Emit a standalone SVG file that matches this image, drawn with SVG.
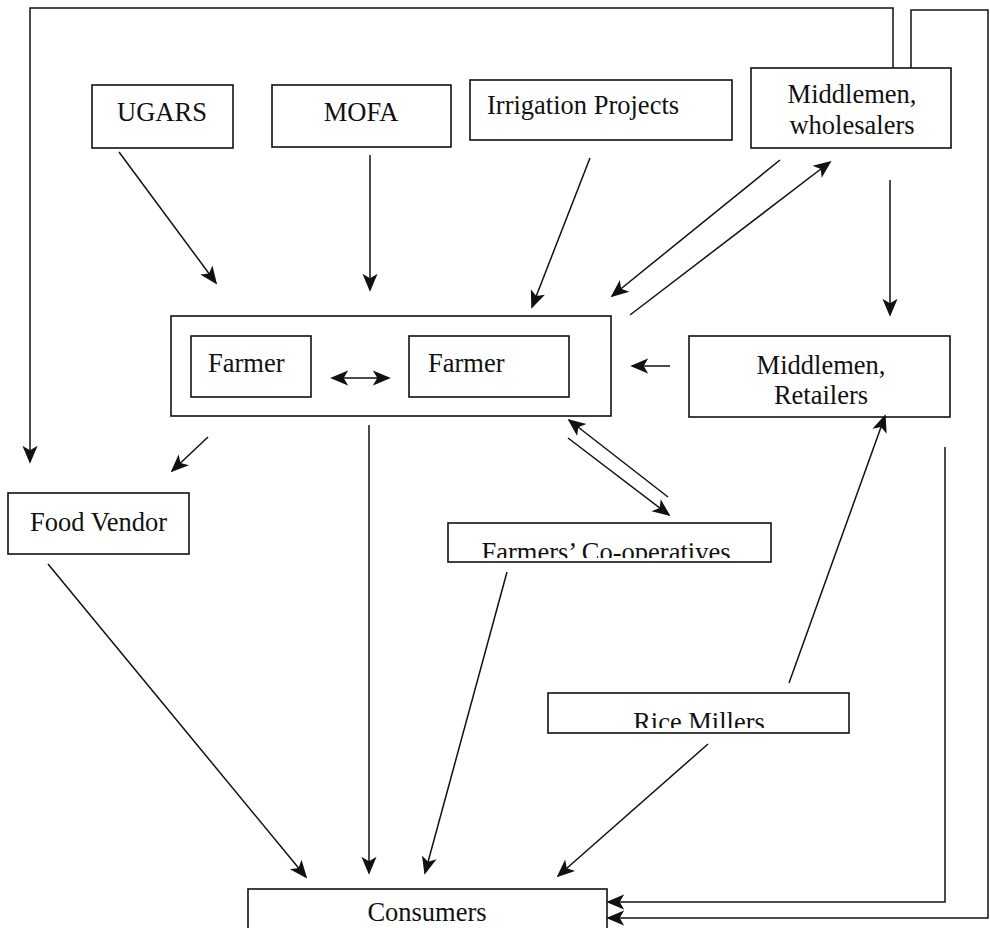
<svg xmlns="http://www.w3.org/2000/svg" width="990" height="928" viewBox="0 0 990 928">
<defs>
<marker id="ah" viewBox="0 0 10 10" refX="9" refY="5" markerWidth="18" markerHeight="18" markerUnits="userSpaceOnUse" orient="auto-start-reverse">
<path d="M0,0.8 L10,5 L0,9.2 L2.5,5 z" fill="#111"/>
</marker>
<clipPath id="cpCoop"><rect x="448" y="523" width="323" height="35"/></clipPath>
<clipPath id="cpRice"><rect x="548" y="693" width="301" height="35"/></clipPath>
<style>
.b{fill:#fff;stroke:#111;stroke-width:1.6}
.o{fill:none;stroke:#111;stroke-width:1.6}
.t{font-family:"Liberation Serif",serif;font-size:26.5px;fill:#111}
.c{fill:none;stroke:#111;stroke-width:1.5}
</style>
</defs>
<rect width="990" height="928" fill="#fff"/>
<g id="ugars"><rect class="b" x="92" y="85" width="141" height="63"/><text class="t" x="162" y="121" text-anchor="middle">UGARS</text></g>
<g id="mofa"><rect class="b" x="272" y="85" width="179" height="62"/><text class="t" x="361" y="121" text-anchor="middle">MOFA</text></g>
<g id="irrigation"><rect class="b" x="470" y="80" width="262" height="60"/><text class="t" x="487" y="114">Irrigation Projects</text></g>
<g id="wholesalers"><rect class="b" x="751" y="68" width="200" height="80"/><text class="t" x="852" y="103" text-anchor="middle">Middlemen,</text><text class="t" x="852" y="134" text-anchor="middle">wholesalers</text></g>
<g id="farmers"><rect class="o" x="171" y="316" width="440" height="100"/>
<g id="farmer1"><rect class="b" x="191" y="336" width="120" height="61"/><text class="t" x="208" y="372">Farmer</text></g>
<g id="farmer2"><rect class="b" x="409" y="336" width="160" height="61"/><text class="t" x="428" y="372">Farmer</text></g>
</g>
<g id="retailers"><rect class="b" x="689" y="336" width="261" height="81"/><text class="t" x="821" y="374" text-anchor="middle">Middlemen,</text><text class="t" x="821" y="404" text-anchor="middle">Retailers</text></g>
<g id="foodvendor"><rect class="b" x="8" y="493" width="181" height="61"/><text class="t" x="30" y="531">Food Vendor</text></g>
<g id="coops"><rect class="b" x="448" y="523" width="323" height="39"/><text class="t" x="606" y="561" text-anchor="middle" clip-path="url(#cpCoop)">Farmers’ Co-operatives</text></g>
<g id="ricemillers"><rect class="b" x="548" y="693" width="301" height="40"/><text class="t" x="699" y="731" text-anchor="middle" clip-path="url(#cpRice)">Rice Millers</text></g>
<g id="consumers"><rect class="b" x="248" y="889" width="359" height="44"/><text class="t" x="427" y="921" text-anchor="middle">Consumers</text></g>
<g id="connectors">
<path class="c" d="M893,68 V8 H30 V462" marker-end="url(#ah)"/>
<path class="c" d="M911,68 V10 H988 V918 H608" marker-end="url(#ah)"/>
<path class="c" d="M945,447 V902 H608" marker-end="url(#ah)"/>
<line class="c" x1="119" y1="152" x2="216" y2="283" marker-end="url(#ah)"/>
<line class="c" x1="370" y1="155" x2="370" y2="290" marker-end="url(#ah)"/>
<line class="c" x1="590" y1="158" x2="532" y2="307" marker-end="url(#ah)"/>
<line class="c" x1="780" y1="160" x2="612" y2="296" marker-end="url(#ah)"/>
<line class="c" x1="630" y1="315" x2="830" y2="162" marker-end="url(#ah)"/>
<line class="c" x1="890" y1="180" x2="890" y2="315" marker-end="url(#ah)"/>
<line class="c" x1="670" y1="366" x2="632" y2="366" marker-end="url(#ah)"/>
<line class="c" x1="332" y1="378" x2="389" y2="378" marker-start="url(#ah)" marker-end="url(#ah)"/>
<line class="c" x1="208" y1="437" x2="172" y2="471" marker-end="url(#ah)"/>
<line class="c" x1="369" y1="425" x2="369" y2="873" marker-end="url(#ah)"/>
<line class="c" x1="668" y1="497" x2="569" y2="420" marker-end="url(#ah)"/>
<line class="c" x1="568" y1="438" x2="669" y2="515" marker-end="url(#ah)"/>
<line class="c" x1="48" y1="564" x2="306" y2="877" marker-end="url(#ah)"/>
<line class="c" x1="507" y1="572" x2="425" y2="873" marker-end="url(#ah)"/>
<line class="c" x1="789" y1="683" x2="885" y2="416" marker-end="url(#ah)"/>
<line class="c" x1="708" y1="744" x2="558" y2="876" marker-end="url(#ah)"/>
</g>
</svg>
